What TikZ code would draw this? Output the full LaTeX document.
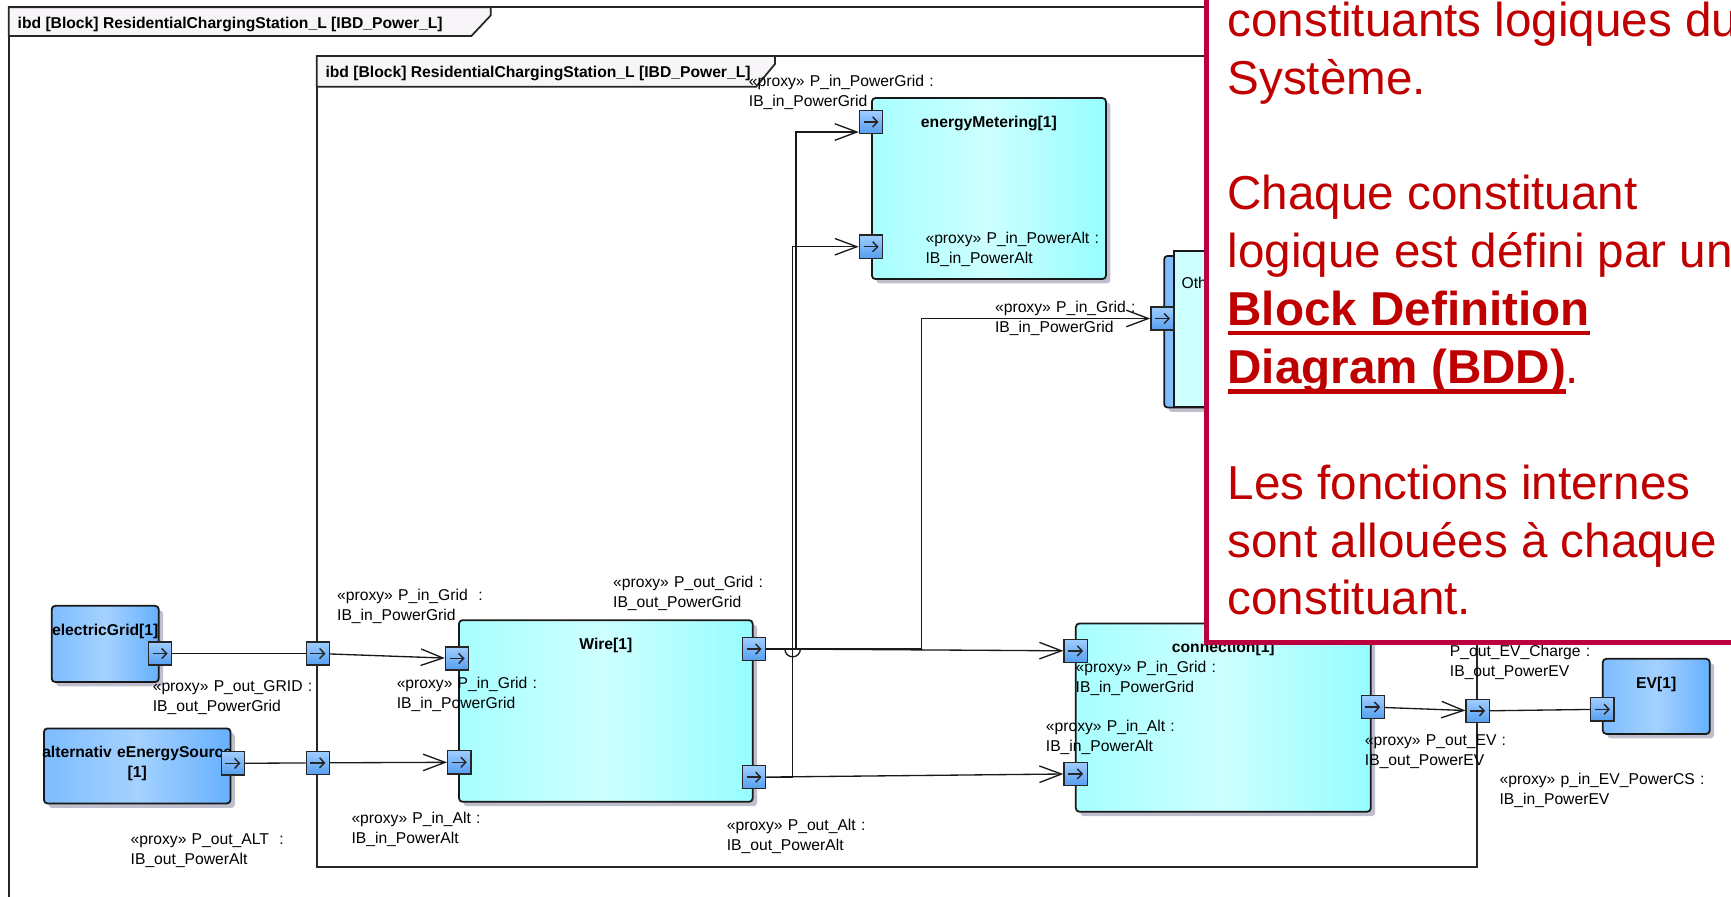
\documentclass[tikz,border=0pt]{standalone}
\usepackage{fontspec}
\setmainfont{Liberation Sans}
\usepackage{tikz}
\usetikzlibrary{arrows.meta, shadows}
\usepackage{xcolor}

\definecolor{noteRed}{RGB}{192,0,0}
\definecolor{noteEdge}{RGB}{187,0,64}
\definecolor{tabFill}{RGB}{248,245,248}
\definecolor{cyanA}{RGB}{168,255,255}
\definecolor{cyanB}{RGB}{205,255,255}
\definecolor{cyanC}{RGB}{150,253,255}
\definecolor{blueA}{RGB}{125,188,255}
\definecolor{blueB}{RGB}{165,210,255}
\definecolor{blueC}{RGB}{102,176,255}
\definecolor{portTop}{RGB}{160,205,255}
\definecolor{portBot}{RGB}{85,158,240}
\definecolor{shade}{RGB}{190,190,204}

\newsavebox{\ulbox}
\newcommand{\ulbf}[2][-4.4pt]{\sbox\ulbox{\bfseries #2}\rlap{\usebox\ulbox}\rule[#1]{\wd\ulbox}{2.1pt}}

\begin{document}
\begin{tikzpicture}[x=0.5pt, y=-0.5pt, font=\fontsize{7.1}{9.05}\selectfont,
   frame/.style={draw=black!85, line width=0.8pt},
   tabtitle/.style={anchor=base west, inner sep=0pt, font=\fontsize{7.1}{9.05}\selectfont\bfseries},
   block/.style={draw=black!90, line width=0.8pt, rounded corners=1.6pt, anchor=north west, inner sep=0pt,
      drop shadow={shadow xshift=2pt, shadow yshift=-2pt, fill=shade, opacity=1}},
   cyanblock/.style={block, left color=cyanA, right color=cyanC, middle color=cyanB},
   blueblock/.style={block, left color=blueA, right color=blueC, middle color=blueB},
   bname/.style={anchor=base, inner sep=0pt, align=center, text width=120pt,
      font=\fontsize{7.1}{9.05}\selectfont\bfseries},
   port/.style={draw=black!85, line width=0.6pt, top color=portTop, bottom color=portBot,
      minimum size=10.5pt, inner sep=0pt,
      path picture={\draw[line width=0.65pt, -{Straight Barb[length=2.2pt,width=4.6pt]}]
         ([xshift=-3.4pt]path picture bounding box.center) -- ([xshift=3.4pt]path picture bounding box.center);}},
   link/.style={draw=black!90, line width=0.6pt},
   conn/.style={link, -{Straight Barb[length=10pt,width=7.5pt]}},
   lbl/.style={anchor=base west, inner sep=0pt, align=left, text width=4cm},
   notetext/.style={anchor=base west, inner sep=0pt, text=noteRed, font=\fontsize{21.55}{26.2}\selectfont}]
   \useasboundingbox (0,0) rectangle (1568,812);

   \draw[frame] (8,6.6) rectangle (1660,840);
   \draw[frame, fill=tabFill] (8,6.6) -- (444.5,6.6) -- (444.5,14) -- (427,32.6) -- (8,32.6) -- cycle;
   \node[tabtitle] (outerTitle) at (15.6,26) {ibd [Block] ResidentialChargingStation\_L [IBD\_Power\_L]};
   \draw[frame] (287,50.7) rectangle (1338,785.5);
   \draw[frame, fill=tabFill] (287,50.7) -- (702,50.7) -- (702,58) -- (685,78.5) -- (287,78.5) -- cycle;
   \node[tabtitle] (innerTitle) at (294.5,70) {ibd [Block] ResidentialChargingStation\_L [IBD\_Power\_L]};

   \node[blueblock, minimum width=48.5pt, minimum height=34.5pt] (electricGrid) at (46,548) {};
   \node[blueblock, minimum width=84.5pt, minimum height=34pt] (altSource) at (39,659) {};
   \node[cyanblock, minimum width=133pt, minimum height=82.25pt] (wire) at (415,561) {};
   \node[cyanblock, minimum width=106pt, minimum height=82pt] (metering) at (789,88) {};
   \node[cyanblock, minimum width=133.6pt, minimum height=85.25pt] (connection) at (973.7,564) {};
   \node[blueblock, minimum width=48.5pt, minimum height=34pt] (ev) at (1451,596) {};
   \node[blueblock, minimum width=40pt, minimum height=68.7pt] (othBack) at (1053.7,231) {};
   \node[draw=black!90, line width=0.8pt, fill=cyanB, anchor=north west, inner sep=0pt,
      minimum width=36pt, minimum height=70.5pt] (oth) at (1062.8,226.4) {};

   \node[bname] at ([yshift=-13.75pt]electricGrid.north) {electricGrid[1]};
   \node[bname] at ([yshift=-13.75pt]altSource.north) {alternativ eEnergySource\\{}[1]};
   \node[bname] at ([yshift=-13.75pt]wire.north) {Wire[1]};
   \node[bname] at ([yshift=-13.75pt]metering.north) {energyMetering[1]};
   \node[bname] at ([yshift=-13.75pt]connection.north) {connection[1]};
   \node[bname] at ([yshift=-13.75pt]ev.north) {EV[1]};
   \node[anchor=base west, inner sep=0pt] (othName) at (1070,261) {Oth};

   \node[port] (egOut) at (145,592) {};
   \node[port] (fGridIn) at (288,592) {};
   \node[port] (altOut) at (211,691.5) {};
   \node[port] (fAltIn) at (288,691) {};
   \node[port] (wGridIn) at (414,596.5) {};
   \node[port] (wAltIn) at (416,690.5) {};
   \node[port] (wGridOut) at (683,588) {};
   \node[port] (wAltOut) at (683,704) {};
   \node[port] (emGridIn) at (789,110.5) {};
   \node[port] (emAltIn) at (789,223.5) {};
   \node[port] (othIn) at (1053,288.5) {};
   \node[port] (cGridIn) at (974.3,589.6) {};
   \node[port] (cAltIn) at (974.3,701) {};
   \node[port] (cEvOut) at (1243.5,640.5) {};
   \node[port] (fEvOut) at (1338.5,644) {};
   \node[port] (evIn) at (1451.5,642.5) {};

   \coordinate (busA) at (718,0);
   \coordinate (busG) at (721,0);
   \coordinate (busO) at (835,0);
   \coordinate (emTip) at ([yshift=1pt]emGridIn.south west);

   \draw[link] (egOut) -- (fGridIn);
   \draw[conn] (fGridIn) -- (wGridIn);
   \draw[link] (altOut) -- (fAltIn);
   \draw[conn] (fAltIn) -- (wAltIn);
   \draw[conn] (wGridOut.east) -- ([xshift=-3.5pt]busA |- wGridOut.east)
      arc[start angle=180, end angle=360, radius=3.5pt] -- (cGridIn);
   \draw[conn] (wGridOut.east) -| (busG |- emTip) -- (emTip);
   \draw[conn] (wGridOut.east) -| (busO |- othIn) -- (othIn);
   \draw[conn] (wAltOut.east) -| (busA |- emAltIn) -- (emAltIn);
   \draw[conn] (wAltOut) -- (cAltIn);
   \draw[conn] (cEvOut) -- (fEvOut);
   \draw[link] (fEvOut) -- (evIn);

   \node[lbl] (lOutGrid) at (138,626) {«proxy» P\_out\_GRID :\\IB\_out\_PowerGrid};
   \node[lbl] (lOutAlt) at (118,765) {«proxy» P\_out\_ALT~ :\\IB\_out\_PowerAlt};
   \node[lbl] (lFrameGrid) at (305,544) {«proxy» P\_in\_Grid~ :\\IB\_in\_PowerGrid};
   \node[lbl] (lWireGrid) at (359,624) {«proxy» P\_in\_Grid :\\IB\_in\_PowerGrid};
   \node[lbl] (lFrameAlt) at (318,746) {«proxy» P\_in\_Alt :\\IB\_in\_PowerAlt};
   \node[lbl] (lWireOutGrid) at (555,532) {«proxy» P\_out\_Grid :\\IB\_out\_PowerGrid};
   \node[lbl] (lWireOutAlt) at (658,752) {«proxy» P\_out\_Alt :\\IB\_out\_PowerAlt};
   \node[lbl] (lEmGrid) at (678,78) {«proxy» P\_in\_PowerGrid :\\IB\_in\_PowerGrid};
   \node[lbl] (lEmAlt) at (838,221) {«proxy» P\_in\_PowerAlt :\\IB\_in\_PowerAlt};
   \node[lbl] (lOthGrid) at (901,283) {«proxy» P\_in\_Grid :\\IB\_in\_PowerGrid};
   \node[lbl] (lConnGrid) at (974,609) {«proxy» P\_in\_Grid :\\IB\_in\_PowerGrid};
   \node[lbl] (lConnAlt) at (947,663) {«proxy» P\_in\_Alt :\\IB\_in\_PowerAlt};
   \node[lbl] (lEvCharge) at (1313,595) {P\_out\_EV\_Charge :\\IB\_out\_PowerEV};
   \node[lbl] (lConnEv) at (1236,675) {«proxy» P\_out\_EV :\\IB\_out\_PowerEV};
   \node[lbl] (lEvIn) at (1358,711) {«proxy» p\_in\_EV\_PowerCS :\\IB\_in\_PowerEV};

   \draw[draw=noteEdge, fill=white, line width=2.1pt] (1093,-30) rectangle (1640,582);
   \foreach \row/\txt in {0/constituants logiques du, 1/Système., 3/Chaque constituant,
         4/logique est défini par un, 5/{\ulbf{Block Definition}}, 6/{\ulbf[-4.55pt]{Diagram (BDD)}.},
         8/Les fonctions internes, 9/sont allouées à chaque, 10/constituant.}
      \node[notetext] at (1111.6,{33+52.4*\row}) {\txt};
\end{tikzpicture}
\end{document}
